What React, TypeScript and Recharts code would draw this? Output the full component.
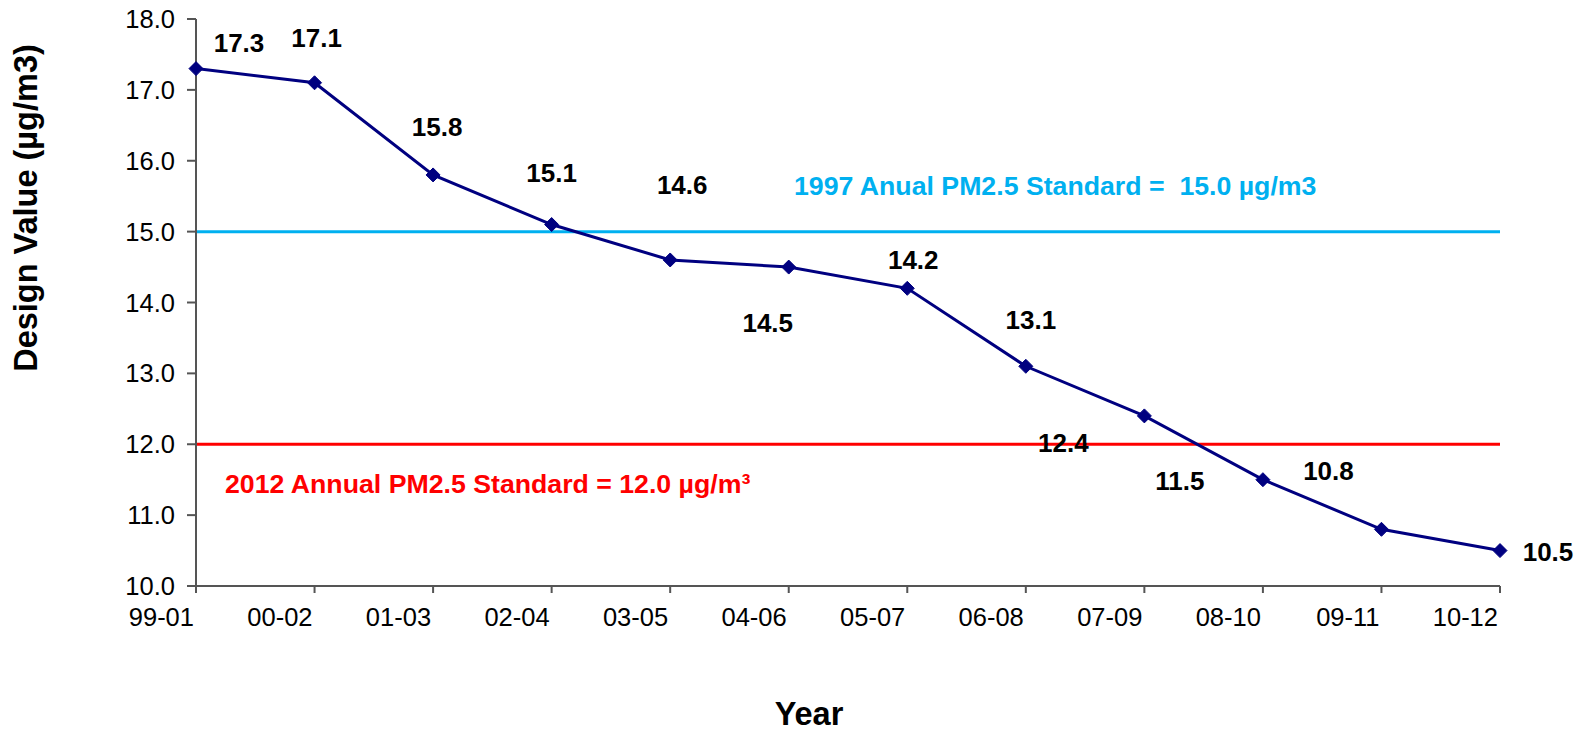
import React from 'react';
import {
  LineChart,
  Line,
  XAxis,
  YAxis,
  ReferenceLine,
  LabelList,
  Label,
} from 'recharts';

// Design value periods and values
const periods = ['99-01', '00-02', '01-03', '02-04', '03-05', '04-06', '05-07', '06-08', '07-09', '08-10', '09-11', '10-12'];
const designValues = [17.3, 17.1, 15.8, 15.1, 14.6, 14.5, 14.2, 13.1, 12.4, 11.5, 10.8, 10.5];
const yTicks = [10, 11, 12, 13, 14, 15, 16, 17, 18];

const standard1997 = 15.0;
const standard2012 = 12.0;
const label1997 = '1997 Anual PM2.5 Standard =  15.0 µg/m3';
const label2012 = '2012 Annual PM2.5 Standard = 12.0 µg/m³';

// where each value label sits relative to its marker
const labelDx = [43, 2, 4, 0, 12, -21, 6, 5, -81, -83, -53, 48];
const labelDy = [-26, -45, -48, -52, -75, 56, -28, -46, 27, 1, -58, 1];

const FONT = '"Liberation Sans", Arial, sans-serif';

const data = periods.map((period, i) => ({ period, value: designValues[i] }));

const Diamond = (props: any) => {
  const { cx, cy } = props;
  if (cx == null || cy == null) return null;
  const r = 7;
  return (
    <polygon
      points={`${cx},${cy - r} ${cx + r},${cy} ${cx},${cy + r} ${cx - r},${cy}`}
      fill="#000080"
      stroke="#000080"
    />
  );
};

const XTick = (props: any) => {
  const { x, y, payload } = props;
  return (
    <text x={x - 2} y={y + 31} textAnchor="end" fontSize={25.5} fill="#000" fontFamily={FONT}>
      {payload.value}
    </text>
  );
};

const ValueLabel = (props: any) => {
  const { x, y, value, index } = props;
  return (
    <text
      x={x + labelDx[index]}
      y={y + labelDy[index]}
      textAnchor="middle"
      dominantBaseline="central"
      fontSize={26}
      fontWeight="bold"
      fill="#000"
      fontFamily={FONT}
    >
      {Number(value).toFixed(1)}
    </text>
  );
};

export default function App() {
  return (
    <div style={{ position: 'absolute', left: 0, top: 0, background: '#fff', fontFamily: FONT }}>
      <LineChart width={1591} height={734} data={data} margin={{ top: 19, right: 91, bottom: 0, left: 0 }}>
        <XAxis
          dataKey="period"
          interval={0}
          tickSize={7}
          tick={<XTick />}
          height={148}
          stroke="#555"
          strokeWidth={2}
        >
          <Label
            content={(p: any) => (
              <text
                x={p.viewBox.x + 613}
                y={714}
                textAnchor="middle"
                dominantBaseline="central"
                fontSize={32.5}
                fontWeight="bold"
                fill="#000"
                fontFamily={FONT}
              >
                Year
              </text>
            )}
          />
        </XAxis>
        <XAxis xAxisId="top" orientation="top" dataKey="period" tick={false} tickLine={false} height={0} stroke="#888" strokeWidth={2} />
        <YAxis
          domain={[10, 18]}
          ticks={yTicks}
          interval={0}
          tickFormatter={(v: number) => v.toFixed(1)}
          tickSize={9}
          tickMargin={12}
          tick={{ fontSize: 25.5, fill: '#000', fontFamily: FONT }}
          width={196}
          stroke="#555"
          strokeWidth={2}
        >
          <Label
            content={() => (
              <text
                x={26}
                y={208}
                transform="rotate(-90, 26, 208)"
                textAnchor="middle"
                dominantBaseline="central"
                fontSize={32.5}
                fontWeight="bold"
                fill="#000"
                fontFamily={FONT}
              >
                Design Value (µg/m3)
              </text>
            )}
          />
        </YAxis>
        <YAxis yAxisId="right" orientation="right" domain={[10, 18]} tick={false} tickLine={false} width={0} stroke="#888" strokeWidth={2} />
        <ReferenceLine
          y={standard1997}
          stroke="#00B0F0"
          strokeWidth={3}
          label={
            <Label
              content={(p: any) => (
                <text
                  x={p.viewBox.x + 598}
                  y={p.viewBox.y - 46}
                  dominantBaseline="central"
                  fontSize={26.7}
                  fontWeight="bold"
                  fill="#00B0F0"
                  fontFamily={FONT}
                  style={{ whiteSpace: 'pre' }}
                >
                  {label1997}
                </text>
              )}
            />
          }
        />
        <ReferenceLine
          y={standard2012}
          stroke="#FF0000"
          strokeWidth={3}
          label={
            <Label
              content={(p: any) => (
                <text
                  x={p.viewBox.x + 29}
                  y={p.viewBox.y + 40}
                  dominantBaseline="central"
                  fontSize={26.7}
                  fontWeight="bold"
                  fill="#FF0000"
                  fontFamily={FONT}
                >
                  {label2012}
                </text>
              )}
            />
          }
        />
        <Line
          dataKey="value"
          stroke="#000080"
          strokeWidth={3}
          dot={<Diamond />}
          activeDot={false}
          isAnimationActive={false}
        >
          <LabelList dataKey="value" content={<ValueLabel />} />
        </Line>
      </LineChart>
    </div>
  );
}
